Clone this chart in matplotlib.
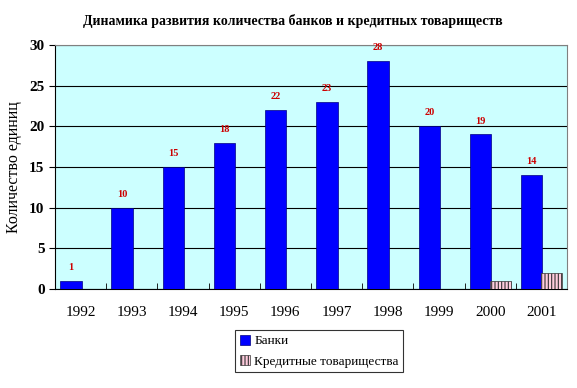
import matplotlib
matplotlib.use('Agg')
import matplotlib.pyplot as plt
import numpy as np

years = ['1992', '1993', '1994', '1995', '1996', '1997', '1998', '1999', '2000', '2001']
banks = [1, 10, 15, 18, 22, 23, 28, 20, 19, 14]
credit = [0, 0, 0, 0, 0, 0, 0, 0, 1, 2]

plt.rcParams['font.family'] = ['Liberation Serif', 'DejaVu Serif']
plt.rcParams['hatch.color'] = '#cc3366'
plt.rcParams['hatch.linewidth'] = 0.8

fig = plt.figure(figsize=(5.77, 3.88), dpi=100)
ax = fig.add_axes([55/577, 1 - 289/388, 512/577, 244/388])
ax.set_facecolor('#ccffff')

x = np.arange(len(years))
ax.bar(x - 0.19, banks, 0.42, color='#0000ff', edgecolor='#000080',
       linewidth=0.5, label='Банки', zorder=3)
ax.bar(x + 0.2, credit, 0.4, color='#ffccdd', edgecolor='#333333', linewidth=0.5,
       hatch='|||||', label='Кредитные товарищества', zorder=3)

# red value labels over the bank bars
for xi, v in zip(x, banks):
    ax.text(xi - 0.19, v + 1.1, str(v), ha='center', va='bottom', color='#cc0000',
            fontsize=7.5, fontweight='bold')

ax.set_xlim(-0.5, len(years) - 0.5)
ax.set_ylim(0, 30)
ax.set_yticks(range(0, 31, 5))
ax.yaxis.grid(True, color='black', linewidth=0.8, zorder=0)
ax.set_xticks(x)
ax.set_xticklabels(years, fontsize=11)
ax.set_xticks(np.arange(0.5, len(years) - 0.5), minor=True)
ax.tick_params(axis='x', which='major', length=0, pad=12)
ax.tick_params(axis='x', which='minor', length=4, direction='in', color='black')
ax.tick_params(axis='y', labelsize=11, length=4, width=0.8)
for lbl in ax.get_yticklabels():
    lbl.set_fontweight('bold')
for side in ['top', 'right']:
    ax.spines[side].set_color('#808080')
for side in ['left', 'bottom']:
    ax.spines[side].set_color('black')

ax.set_ylabel('Количество единиц', fontsize=11.5, labelpad=5)
fig.text(0.508, 0.945, 'Динамика развития количества банков и кредитных товариществ',
         ha='center', va='center', fontsize=10, fontweight='bold')

leg = fig.legend(loc='upper left', bbox_to_anchor=(235/577, 1 - 330/388), fontsize=9.5,
                 frameon=True, fancybox=False, edgecolor='black', handlelength=0.8,
                 handleheight=0.8, handletextpad=0.3, borderpad=0.35, labelspacing=0.6,
                 borderaxespad=0)
leg.get_frame().set_linewidth(0.8)

fig.savefig('out.png', dpi=100)
